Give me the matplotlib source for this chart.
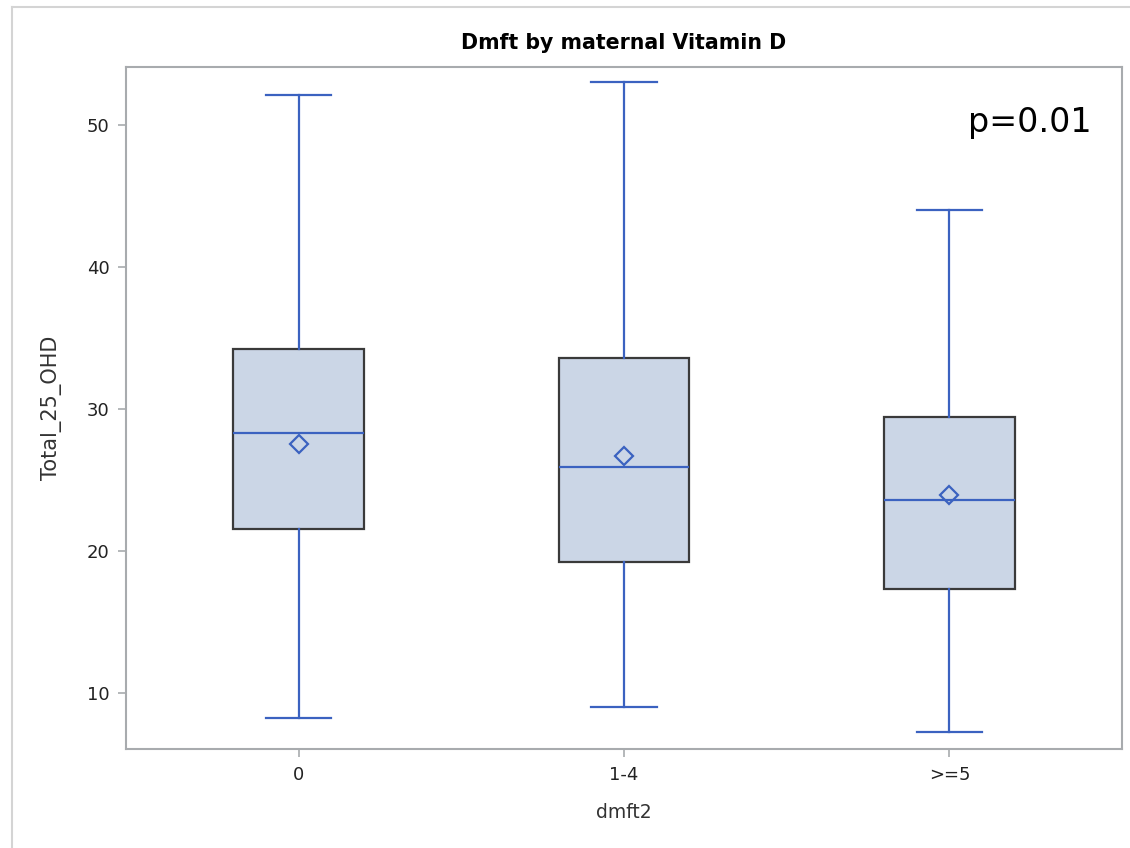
import matplotlib
matplotlib.use('Agg')
import matplotlib.pyplot as plt
from matplotlib.lines import Line2D

# box statistics
groups = ['0', '1-4', '>=5']
whislo = [8.2, 9.0, 7.2]
q1 = [21.5, 19.2, 17.3]
med = [28.3, 25.9, 23.6]
q3 = [34.2, 33.6, 29.4]
whishi = [52.1, 53.0, 44.0]
means = [27.5, 26.7, 23.9]
yticks = [10, 20, 30, 40, 50]

blue = '#3B62C0'
fill = '#CBD6E6'
edge = '#3A3A3A'
axis_gray = '#A8ABAE'

plt.rcParams['font.family'] = ['DejaVu Sans']

fig = plt.figure(figsize=(11.3, 8.48), dpi=100)
ax = fig.add_axes([126 / 1130, 1 - 749 / 848, (1122 - 126) / 1130, (749 - 67) / 848])

stats = []
for i in range(len(groups)):
  stats.append({'label': groups[i], 'whislo': whislo[i], 'q1': q1[i], 'med': med[i],
                'q3': q3[i], 'whishi': whishi[i], 'mean': means[i], 'fliers': []})

ax.bxp(stats, positions=range(len(groups)), widths=0.4, showmeans=True,
       patch_artist=True, capwidths=0.2,
       boxprops=dict(facecolor=fill, edgecolor=edge, linewidth=1.6),
       whiskerprops=dict(color=blue, linewidth=1.6),
       capprops=dict(color=blue, linewidth=1.6),
       medianprops=dict(color=blue, linewidth=1.6),
       meanprops=dict(marker='D', markersize=9, markerfacecolor='none',
                      markeredgecolor=blue, markeredgewidth=1.6))

ax.set_xlim(-0.53, 2.53)
ax.set_ylim(6.03, 54.09)
ax.set_yticks(yticks)
ax.set_xticks(range(len(groups)))
ax.set_xticklabels(groups)
for s in ax.spines.values():
  s.set_color(axis_gray)
  s.set_linewidth(1.5)
ax.tick_params(colors=axis_gray, labelcolor='#222222', labelsize=13, length=6, width=1.2, pad=6)

ax.set_title('Dmft by maternal Vitamin D', fontsize=14.8, fontweight='bold', pad=13)
ax.set_xlabel('dmft2', fontsize=13.5, color='#333333', labelpad=14)
ax.set_ylabel('Total_25_OHD', fontsize=15, color='#333333', labelpad=18)

fig.text(1092 / 1130, 1 - 132 / 848, 'p=0.01', fontsize=24, ha='right', va='baseline')

# outer frame of the original graphic
fig.add_artist(Line2D([12 / 1130, 1.0], [1 - 7 / 848, 1 - 7 / 848], color='#D4D4D4', linewidth=1.5))
fig.add_artist(Line2D([12 / 1130, 12 / 1130], [0.0, 1 - 7 / 848], color='#D4D4D4', linewidth=1.5))

fig.savefig('out.png', dpi=100)
